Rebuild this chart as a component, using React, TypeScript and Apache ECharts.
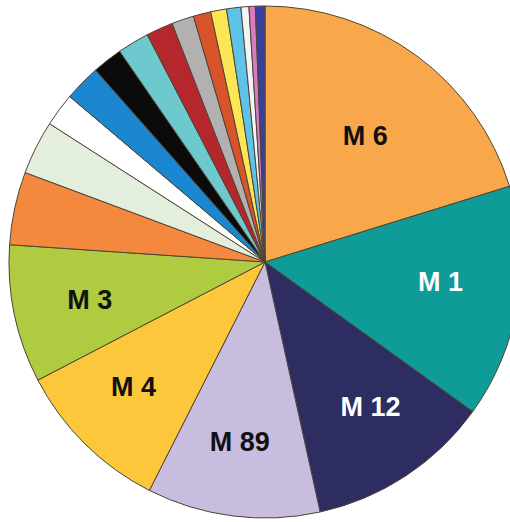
import React, { useEffect, useRef } from "react";
import * as echarts from "echarts";

// Slice shares (percent), clockwise from 12 o'clock
const sliceNames = [
  "M 6", "M 1", "M 12", "M 89", "M 4", "M 3",
  "", "", "", "", "", "", "", "", "", "", "", "", "", "",
];
const sliceValues = [
  20.2, 14.7, 11.6, 10.9, 9.9, 8.7,
  4.6, 3.4, 2.1, 2.3, 1.9, 2.0, 1.7, 1.4, 1.1, 1.0, 0.9, 0.5, 0.4, 0.6,
];
const sliceColors = [
  "#F8A84A", "#0F9C98", "#2E2D62", "#C8BCDF", "#FDC73C", "#AFCB3F",
  "#F5883F", "#E3EEDD", "#FFFFFF", "#1B87D1", "#0B0B0B", "#6DC9CE",
  "#B4282D", "#B3B0B1", "#D8542A", "#FCE656", "#5FC3E7", "#F3F4F8",
  "#D77CC1", "#3B3F9C",
];
const labelColors = ["#111111", "#FFFFFF", "#FFFFFF", "#111111", "#111111", "#111111"];

// label placement: fraction of radius and small angular nudge (degrees)
const labelRadiusFrac = [0.63, 0.69, 0.7, 0.71, 0.71, 0.7];
const labelAngleShift = [2, -2.7, -2.7, 0.8, 1.7, -0.4];

const CX = 265;
const CY = 262;
const R = 256;

export default function App() {
  const ref = useRef<HTMLDivElement>(null);

  useEffect(() => {
    if (!ref.current) return;
    const chart = echarts.init(ref.current, null, { renderer: "svg" });
    const total = sliceValues.reduce((a, b) => a + b, 0);
    const starts: number[] = [];
    let acc = 0;
    sliceValues.forEach((v) => {
      starts.push(acc);
      acc += v;
    });

    const data = sliceValues.map((v, i) => ({
      name: sliceNames[i] || `slice${i}`,
      value: v,
      itemStyle: { color: sliceColors[i] },
      label: sliceNames[i]
        ? { show: true, color: labelColors[i] }
        : { show: false },
    }));

    chart.setOption({
      animation: false,
      backgroundColor: "#ffffff",
      series: [
        {
          type: "pie",
          center: [CX, CY],
          radius: [0, R],
          startAngle: 90,
          clockwise: true,
          avoidLabelOverlap: false,
          minShowLabelAngle: 0,
          itemStyle: { borderColor: "#4d4436", borderWidth: 1 },
          label: {
            show: true,
            position: "inside",
            formatter: "{b}",
            fontFamily: "Liberation Sans, Arial, sans-serif",
            fontWeight: "bold",
            fontSize: 27,
          },
          labelLine: { show: false },
          emphasis: { disabled: true },
          labelLayout: (params: any) => {
            const i = params.dataIndex;
            if (i >= labelRadiusFrac.length) return {};
            const mid = ((starts[i] + sliceValues[i] / 2) / total) * 360 + labelAngleShift[i];
            const a = (mid * Math.PI) / 180;
            const rr = R * labelRadiusFrac[i];
            return {
              x: CX + rr * Math.sin(a),
              y: CY - rr * Math.cos(a),
              align: "center",
              verticalAlign: "middle",
            };
          },
          data,
        },
      ],
    });
    return () => chart.dispose();
  }, []);

  return (
    <div
      ref={ref}
      style={{ position: "fixed", left: 0, top: 0, width: 510, height: 522 }}
    />
  );
}
